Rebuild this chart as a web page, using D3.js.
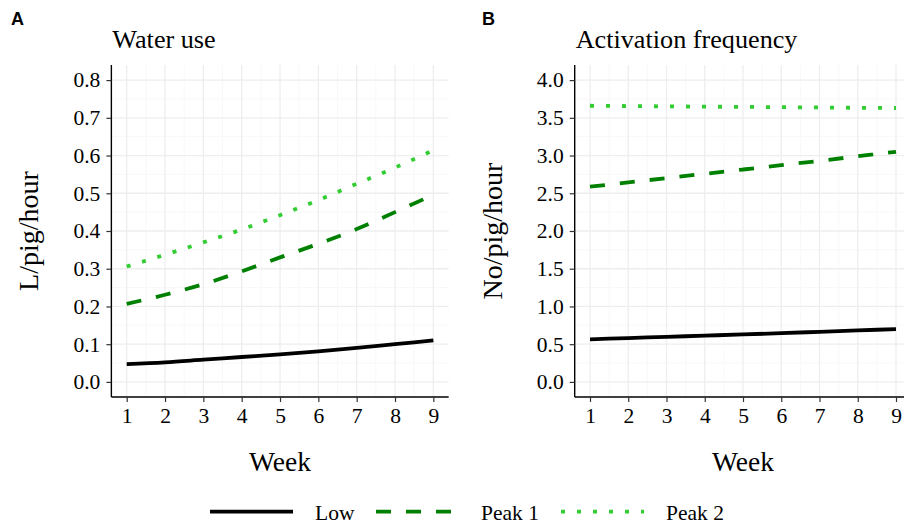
<!DOCTYPE html>
<html>
<head>
<meta charset="utf-8">
<script src="https://cdn.jsdelivr.net/npm/d3@7"></script>
<style>
  body { margin: 0; background: #fff; }
  svg { display: block; }
</style>
</head>
<body>
<script>
(function () {
    'use strict';

    // data
    var weeks = [1, 2, 3, 4, 5, 6, 7, 8, 9];
    var seriesNames = ['Low', 'Peak 1', 'Peak 2'];
    var waterLow = [0.047, 0.052, 0.059, 0.066, 0.073, 0.081, 0.090, 0.100, 0.110];
    var waterPeak1 = [0.207, 0.231, 0.259, 0.293, 0.330, 0.366, 0.405, 0.450, 0.496];
    var waterPeak2 = [0.306, 0.337, 0.370, 0.404, 0.442, 0.482, 0.525, 0.568, 0.614];
    var actLow = [0.565, 0.581, 0.597, 0.613, 0.629, 0.646, 0.664, 0.682, 0.700];
    var actPeak1 = [2.587, 2.644, 2.701, 2.758, 2.815, 2.872, 2.930, 2.990, 3.050];
    var actPeak2 = [3.660, 3.656, 3.652, 3.648, 3.645, 3.641, 3.637, 3.633, 3.630];
    var waterTicks = [0.0, 0.1, 0.2, 0.3, 0.4, 0.5, 0.6, 0.7, 0.8];
    var actTicks = [0.0, 0.5, 1.0, 1.5, 2.0, 2.5, 3.0, 3.5, 4.0];

    var styles = {
        'Low': { color: '#000000', dash: null },
        'Peak 1': { color: '#008000', dash: '15,15' },
        'Peak 2': { color: '#32cd32', dash: '4,12' }
    };
    var serif = '"Liberation Serif", "Times New Roman", serif';

    var svg = d3.select('body')
        .append('svg')
        .attr('width', 904)
        .attr('height', 527);

    function drawPanel(opt) {
        var x = d3.scaleLinear().domain([0.6, 9.4]).range(opt.xRange);
        var y = d3.scaleLinear().domain(opt.yDomain).range([397, 65]);
        var g = svg.append('g');

        // grid, minor then major
        var minorY = [];
        var minorX = [];
        var i;
        for (i = 0; i < opt.ticks.length - 1; i++) {
            minorY.push((opt.ticks[i] + opt.ticks[i + 1]) / 2);
        }
        for (i = 0; i < weeks.length - 1; i++) {
            minorX.push(weeks[i] + 0.5);
        }
        g.selectAll('.minor-y').data(minorY).enter().append('line')
            .attr('x1', x(0.6)).attr('x2', x(9.4))
            .attr('y1', function (d) { return y(d); })
            .attr('y2', function (d) { return y(d); })
            .attr('stroke', '#f6f6f6').attr('stroke-width', 0.8);
        g.selectAll('.minor-x').data(minorX).enter().append('line')
            .attr('y1', 65).attr('y2', 397)
            .attr('x1', function (d) { return x(d); })
            .attr('x2', function (d) { return x(d); })
            .attr('stroke', '#f6f6f6').attr('stroke-width', 0.8);
        g.selectAll('.major-y').data(opt.ticks).enter().append('line')
            .attr('x1', x(0.6)).attr('x2', x(9.4))
            .attr('y1', function (d) { return y(d); })
            .attr('y2', function (d) { return y(d); })
            .attr('stroke', '#eeeeee').attr('stroke-width', 1.3);
        g.selectAll('.major-x').data(weeks).enter().append('line')
            .attr('y1', 65).attr('y2', 397)
            .attr('x1', function (d) { return x(d); })
            .attr('x2', function (d) { return x(d); })
            .attr('stroke', '#eeeeee').attr('stroke-width', 1.3);

        // lines
        var line = d3.line()
            .x(function (d, k) { return x(weeks[k]); })
            .y(function (d) { return y(d); })
            .curve(d3.curveMonotoneX);
        seriesNames.forEach(function (name, k) {
            g.append('path')
                .datum(opt.series[k])
                .attr('d', line)
                .attr('fill', 'none')
                .attr('stroke', styles[name].color)
                .attr('stroke-width', 3.8)
                .attr('stroke-dasharray', styles[name].dash);
        });

        // axes
        var xAxis = g.append('g')
            .attr('transform', 'translate(0,397)')
            .call(d3.axisBottom(x).tickValues(weeks).tickSize(5).tickPadding(6)
                .tickFormat(d3.format('d')));
        var yAxis = g.append('g')
            .attr('transform', 'translate(' + x(0.6) + ',0)')
            .call(d3.axisLeft(y).tickValues(opt.ticks).tickSize(5).tickPadding(6)
                .tickFormat(d3.format('.1f')));
        [xAxis, yAxis].forEach(function (a) {
            a.select('.domain').attr('stroke', '#000').attr('stroke-width', 1.4);
            a.selectAll('.tick line').attr('stroke', '#333').attr('stroke-width', 1.2);
            a.selectAll('.tick text')
                .attr('fill', '#000')
                .style('font-family', serif)
                .style('font-size', '21.5px');
        });
        xAxis.select('.domain').attr('d', 'M' + x(0.6) + ',0H' + x(9.4));
        yAxis.select('.domain').attr('d', 'M0,' + y.range()[0] + 'V' + y.range()[1]);

        // titles
        svg.append('text')
            .attr('x', opt.labelX).attr('y', 25)
            .style('font-family', '"Liberation Sans", Arial, sans-serif')
            .style('font-weight', 'bold')
            .style('font-size', '18px')
            .text(opt.label);
        svg.append('text')
            .attr('x', x(0.6) + 1).attr('y', 48)
            .style('font-family', serif)
            .style('font-size', '26.2px')
            .text(opt.title);
        svg.append('text')
            .attr('x', (x(0.6) + x(9.4)) / 2).attr('y', 471)
            .attr('text-anchor', 'middle')
            .style('font-family', serif)
            .style('font-size', '27.5px')
            .text('Week');
        svg.append('text')
            .attr('transform', 'translate(' + opt.yTitleX + ',231) rotate(-90)')
            .attr('text-anchor', 'middle')
            .style('font-family', serif)
            .style('font-size', '28px')
            .text(opt.yTitle);
    }

    drawPanel({
        xRange: [111.37, 448.67],
        yDomain: [-0.04, 0.84],
        ticks: waterTicks,
        series: [waterLow, waterPeak1, waterPeak2],
        label: 'A', labelX: 11,
        title: 'Water use',
        yTitle: 'L/pig/hour', yTitleX: 38
    });
    drawPanel({
        xRange: [574.7, 911.3],
        yDomain: [-0.2, 4.2],
        ticks: actTicks,
        series: [actLow, actPeak1, actPeak2],
        label: 'B', labelX: 482,
        title: 'Activation frequency',
        yTitle: 'No/pig/hour', yTitleX: 502
    });

    // legend
    var legendX = [210, 376, 561];
    var legend = svg.append('g');
    seriesNames.forEach(function (name, k) {
        var lx = legendX[k];
        legend.append('line')
            .attr('x1', lx).attr('x2', lx + 83)
            .attr('y1', 511.7).attr('y2', 511.7)
            .attr('stroke', styles[name].color)
            .attr('stroke-width', 3.8)
            .attr('stroke-dasharray', styles[name].dash);
        legend.append('text')
            .attr('x', lx + 105).attr('y', 520)
            .style('font-family', serif)
            .style('font-size', '21.5px')
            .text(name);
    });
}());
</script>
</body>
</html>
